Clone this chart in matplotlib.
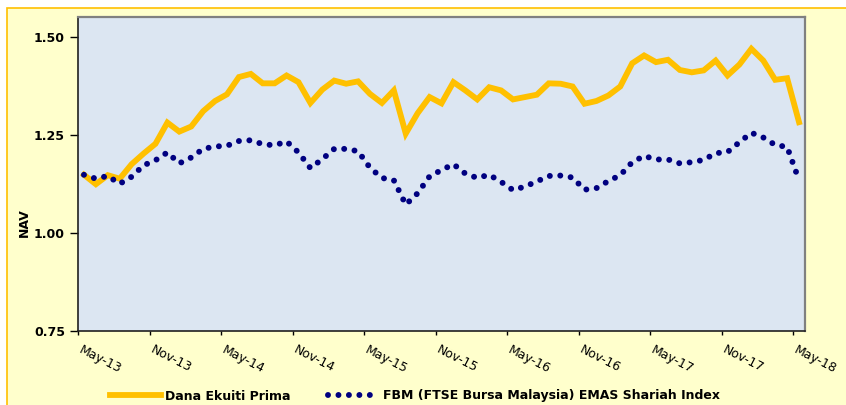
import matplotlib
matplotlib.use("Agg")
import matplotlib.pyplot as plt
import matplotlib.transforms as mtransforms
from matplotlib.patches import Rectangle

# monthly NAV, May-13 .. May-18
fund = [1.148, 1.124, 1.147, 1.138, 1.175, 1.202, 1.227, 1.281, 1.258, 1.271,
        1.310, 1.336, 1.353, 1.397, 1.405, 1.381, 1.381, 1.401, 1.384, 1.331,
        1.365, 1.388, 1.380, 1.386, 1.354, 1.331, 1.363, 1.253, 1.305, 1.346,
        1.330, 1.384, 1.363, 1.340, 1.371, 1.363, 1.340, 1.346, 1.352, 1.381,
        1.380, 1.373, 1.329, 1.336, 1.350, 1.373, 1.432, 1.452, 1.435, 1.441,
        1.415, 1.409, 1.414, 1.439, 1.401, 1.429, 1.469, 1.439, 1.390, 1.394,
        1.282]
index = [1.148, 1.138, 1.145, 1.125, 1.143, 1.172, 1.185, 1.205, 1.177, 1.192,
         1.214, 1.220, 1.222, 1.234, 1.236, 1.226, 1.223, 1.233, 1.205, 1.165,
         1.188, 1.214, 1.214, 1.208, 1.166, 1.140, 1.134, 1.072, 1.101, 1.144,
         1.160, 1.175, 1.151, 1.140, 1.148, 1.130, 1.109, 1.118, 1.131, 1.145,
         1.146, 1.141, 1.110, 1.114, 1.132, 1.147, 1.180, 1.196, 1.187, 1.187,
         1.177, 1.180, 1.186, 1.203, 1.206, 1.231, 1.255, 1.243, 1.224, 1.219,
         1.134]
tick_labels = ["May-13", "Nov-13", "May-14", "Nov-14", "May-15", "Nov-15",
               "May-16", "Nov-16", "May-17", "Nov-17", "May-18"]
y_ticks = [0.75, 1.00, 1.25, 1.50]

months = [i + 0.5 for i in range(len(fund))]

fig = plt.figure(figsize=(8.46, 4.05), dpi=100, facecolor="white")
fig.patches.append(Rectangle((7 / 846, -0.05), 1.0, 1 - 8 / 405 + 0.05,
                             transform=fig.transFigure, facecolor="#FFFFCC",
                             edgecolor="#FFC000", linewidth=1.2, zorder=-5))

ax = fig.add_axes([78 / 846, 74 / 405, 727 / 846, 314 / 405])
ax.set_facecolor("#DCE6F2")

ax.plot(months, fund, color="#FFC000", linewidth=4.2, solid_joinstyle="miter",
        label="Dana Ekuiti Prima")
dots, = ax.plot(months, index, color="#000080", linewidth=4.3,
                dash_capstyle="round",
                label="FBM (FTSE Bursa Malaysia) EMAS Shariah Index")
dots.set_dashes([0.001, 1.75])

ax.set_xlim(0, 61)
ax.set_ylim(0.75, 1.55)
ax.set_yticks(y_ticks)
ax.set_yticklabels(["%.2f" % v for v in y_ticks], fontsize=9, fontweight="bold")
ax.set_xticks(range(0, 61, 6))
ax.set_xticklabels(tick_labels, fontsize=9, rotation=-27, ha="left",
                   va="top", rotation_mode="anchor")
ax.tick_params(axis="y", direction="out", length=5.8, width=1, pad=3.6)
ax.tick_params(axis="x", direction="out", length=3, width=1, pad=6)

shift = mtransforms.ScaledTranslation(0.05, 0, fig.dpi_scale_trans)
for lab in ax.get_xticklabels():
    lab.set_transform(lab.get_transform() + shift)

for side in ["left", "bottom"]:
    ax.spines[side].set_color("#202020")
    ax.spines[side].set_linewidth(1.2)
for side in ["top", "right"]:
    ax.spines[side].set_color("#808080")
    ax.spines[side].set_linewidth(1.6)

fig.text(24 / 846, 1 - 223 / 405, "NAV", rotation=90, ha="center",
         va="center", fontsize=9, fontweight="bold")

fig.legend(loc="center left", bbox_to_anchor=(110 / 846, 9 / 405), ncol=2,
           frameon=False, prop={"size": 9, "weight": "bold"},
           handlelength=4.1, handletextpad=0.3, columnspacing=3.0,
           borderpad=0, borderaxespad=0)

fig.savefig("out.png", dpi=100, facecolor=fig.get_facecolor())
